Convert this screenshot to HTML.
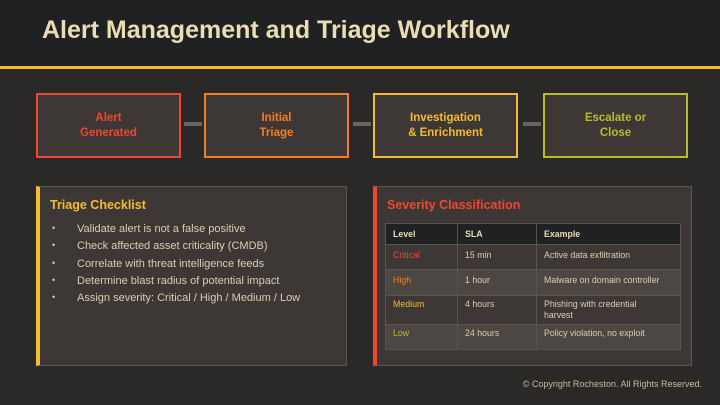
<!DOCTYPE html>
<html><head><meta charset="utf-8"><style>
*{margin:0;padding:0;box-sizing:border-box}
body{width:720px;height:405px;background:#2a2928;font-family:"Liberation Sans",sans-serif;position:relative;overflow:hidden}
.hdr{position:absolute;left:0;top:0;width:720px;height:66px;background:#1f2122}
.hl{position:absolute;left:0;top:66px;width:720px;height:3px;background:#f6bb2a}
.title{position:absolute;left:42px;top:16px;font-size:25px;font-weight:bold;color:#ecdcb5;letter-spacing:0px}
.box{position:absolute;top:93px;width:145px;height:65px;background:#3d3835;border:2px solid;display:flex;align-items:center;justify-content:center;text-align:center;font-weight:bold;font-size:11.5px;line-height:15px}
.con{position:absolute;top:122px;width:18px;height:4px;background:#6b635e}
.panel{position:absolute;top:186px;height:180px;background:#3d3835;border:1px solid #5a544f}
.ph{position:absolute;font-weight:bold;font-size:12.5px}
ul{position:absolute;left:12px;top:36px;list-style:none;color:#dccdb0;font-size:11px}
li{height:17.3px;position:relative;padding-left:25px}
li:before{content:"•";position:absolute;left:0;font-size:9px}
table{position:absolute;left:8px;top:36px;width:296px;border-collapse:collapse;font-size:8.8px;color:#dccdb0}
td,th{border:1px solid #5a544f;padding:0 7px;text-align:left;vertical-align:top}
th{background:#1f2122;color:#ecdcb5;height:21px;vertical-align:middle}
td{padding-top:5px}
.copy{position:absolute;right:18px;top:379px;font-size:9px;color:#c9bba0}
</style></head><body>
<div class="hdr"></div><div class="hl"></div>
<div class="title">Alert Management and Triage Workflow</div>
<div class="box" style="left:36px;border-color:#f1462e;color:#f1462e">Alert<br>Generated</div>
<div class="con" style="left:184px"></div>
<div class="box" style="left:204px;border-color:#f57e1f;color:#f57e1f">Initial<br>Triage</div>
<div class="con" style="left:353px"></div>
<div class="box" style="left:373px;border-color:#f6bb2a;color:#f6bb2a">Investigation<br>&amp; Enrichment</div>
<div class="con" style="left:523px"></div>
<div class="box" style="left:543px;border-color:#b5bd27;color:#b5bd27">Escalate or<br>Close</div>

<div class="panel" style="left:36px;width:311px;border-left:4px solid #f6bb2a">
<div class="ph" style="left:10px;top:11px;color:#f6bb2a">Triage Checklist</div>
<ul>
<li>Validate alert is not a false positive</li>
<li>Check affected asset criticality (CMDB)</li>
<li>Correlate with threat intelligence feeds</li>
<li>Determine blast radius of potential impact</li>
<li>Assign severity: Critical / High / Medium / Low</li>
</ul></div>

<div class="panel" style="left:373px;width:319px;border-left:4px solid #f1462e">
<div class="ph" style="left:10px;top:11px;color:#f1462e">Severity Classification</div>
<table>
<tr><th style="width:72px">Level</th><th style="width:79px">SLA</th><th>Example</th></tr>
<tr style="height:25px;background:#3d3835"><td style="color:#f1462e">Critical</td><td>15 min</td><td>Active data exfiltration</td></tr>
<tr style="height:26px;background:#4d4744"><td style="color:#f57e1f">High</td><td>1 hour</td><td>Malware on domain controller</td></tr>
<tr style="height:29px;background:#3d3835"><td style="color:#f6bb2a;padding-top:3px">Medium</td><td style="padding-top:3px">4 hours</td><td style="padding-top:3px;line-height:11px">Phishing with credential<br>harvest</td></tr>
<tr style="height:25px;background:#4d4744"><td style="color:#b5bd27;padding-top:3px">Low</td><td style="padding-top:3px">24 hours</td><td style="padding-top:3px">Policy violation, no exploit</td></tr>
</table></div>
<div class="copy">© Copyright Rocheston. All Rights Reserved.</div>
</body></html>
